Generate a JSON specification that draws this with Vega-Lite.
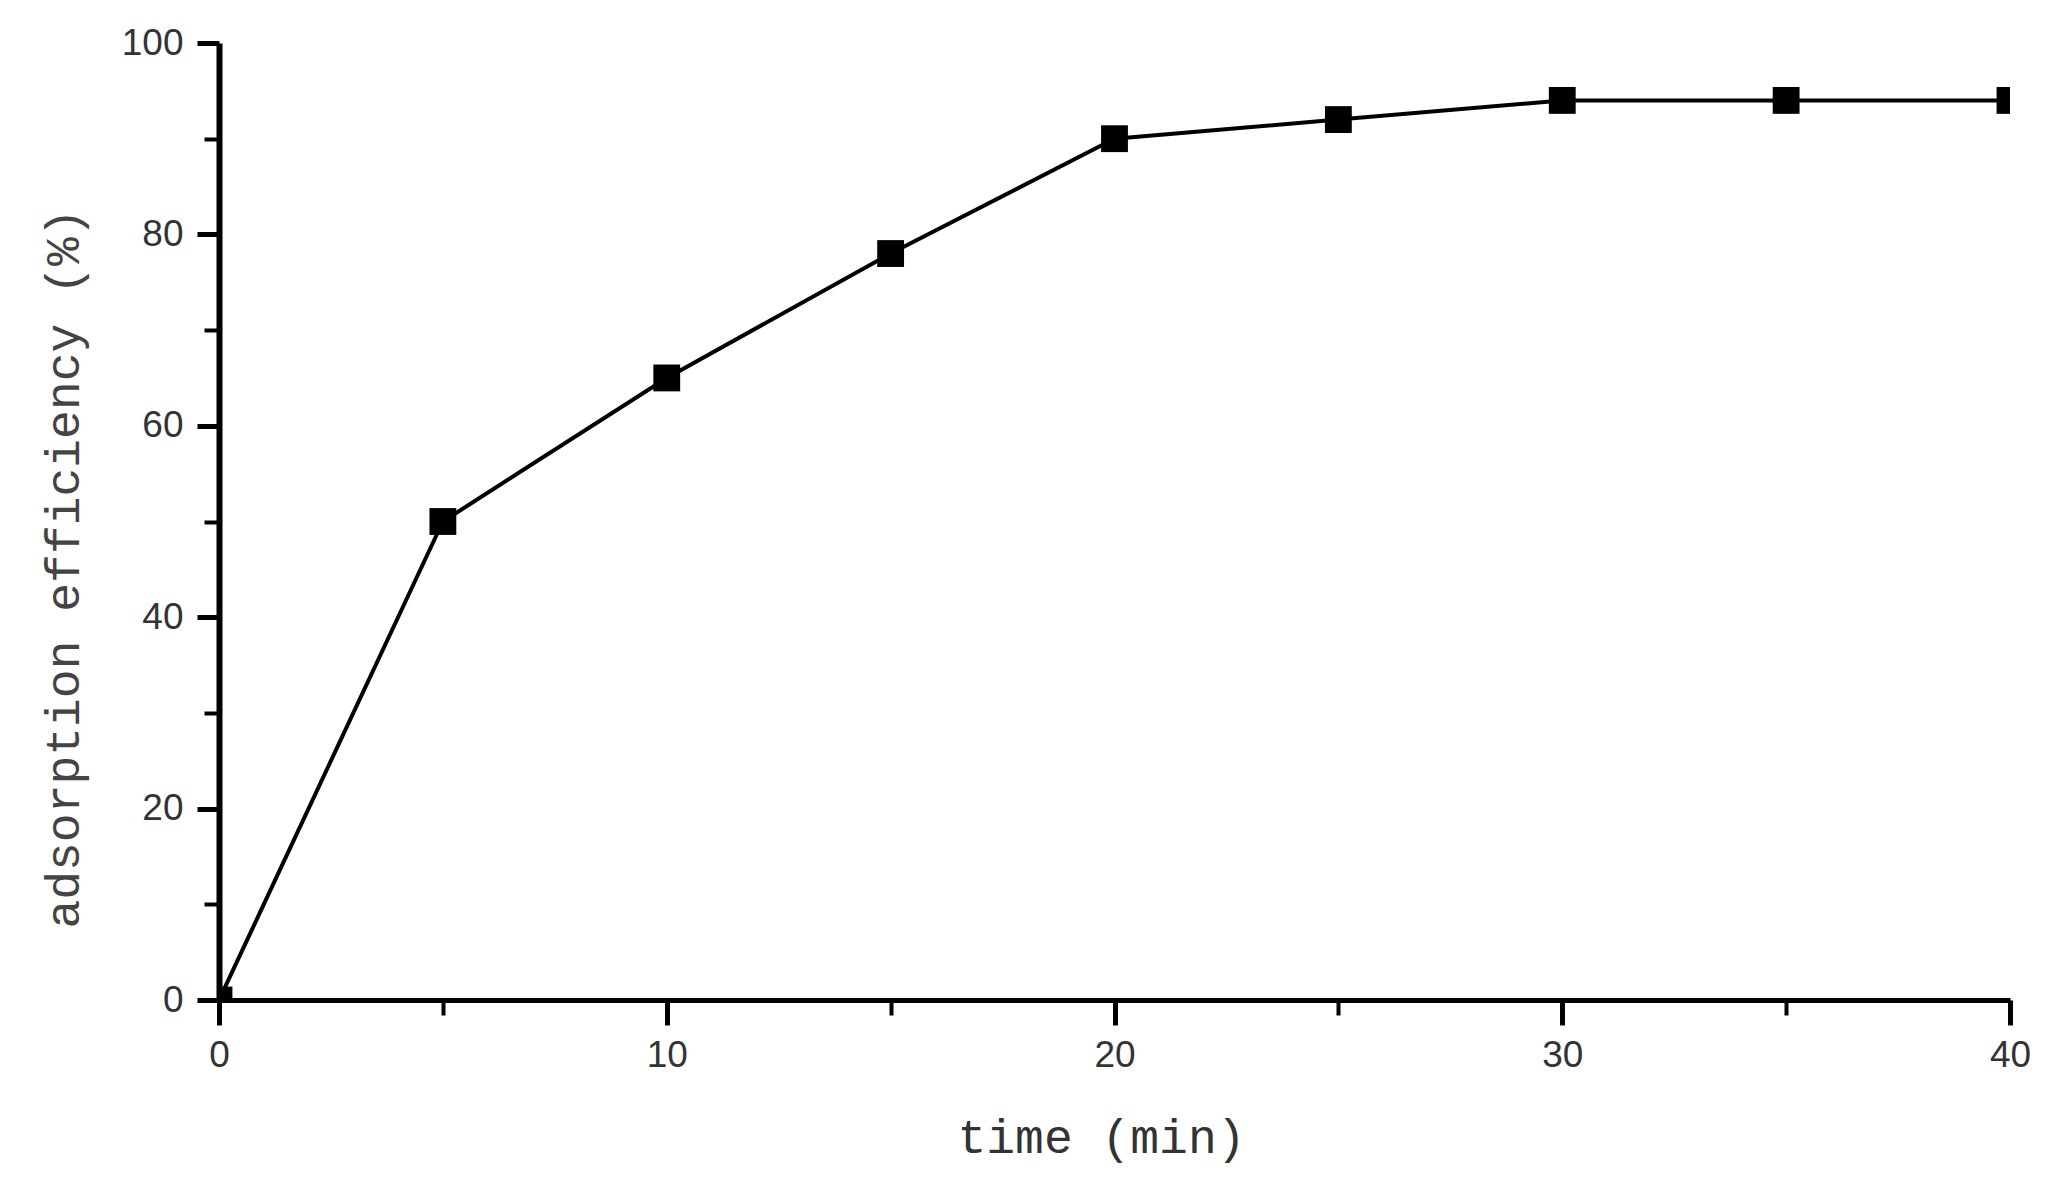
{
  "$schema": "https://vega.github.io/schema/vega-lite/v6.json",
  "autosize": "none",
  "width": 1791,
  "height": 957,
  "padding": {"left": 219, "top": 43, "right": 50, "bottom": 188},
  "background": "white",
  "config": {"view": {"stroke": null}},
  "data": {"values": [
    {"time": 0, "eff": 0},
    {"time": 5, "eff": 50},
    {"time": 10, "eff": 65},
    {"time": 15, "eff": 78},
    {"time": 20, "eff": 90},
    {"time": 25, "eff": 92},
    {"time": 30, "eff": 94},
    {"time": 35, "eff": 94},
    {"time": 40, "eff": 94}
  ]},
  "layer": [
    {
      "mark": {"type": "line", "color": "black", "strokeWidth": 4, "clip": true},
      "encoding": {
        "x": {"field": "time", "type": "quantitative",
          "scale": {"domain": [0, 40], "nice": false, "zero": false},
          "axis": {"orient": "bottom", "values": [0, 10, 20, 30, 40], "grid": false,
            "domainColor": "black", "domainWidth": 5, "tickColor": "black", "tickWidth": 5, "tickSize": 25,
            "labelFont": "Liberation Sans", "labelFontSize": 37, "labelColor": "#333", "labelPadding": 12,
            "labelFlush": false,
            "title": "time (min)", "titleFont": "Liberation Mono", "titleFontSize": 48, "titleFontWeight": "normal",
            "titleColor": "#333", "titleX": 882, "titleY": 152, "titleBaseline": "alphabetic", "titleAlign": "center"}},
        "y": {"field": "eff", "type": "quantitative",
          "scale": {"domain": [0, 100], "nice": false, "zero": false},
          "axis": {"orient": "left", "values": [0, 20, 40, 60, 80, 100], "grid": false,
            "domainColor": "black", "domainWidth": 6, "tickColor": "black", "tickWidth": 5, "tickSize": 22,
            "labelFont": "Liberation Sans", "labelFontSize": 37, "labelColor": "#333", "labelPadding": 14,
            "labelFlush": false,
            "title": "adsorption efficiency (%)", "titleFont": "Liberation Mono", "titleFontSize": 48, "titleFontWeight": "normal",
            "titleColor": "#444", "titleAngle": -90, "titleX": -141, "titleY": 525, "titleBaseline": "alphabetic", "titleAlign": "center"}}
      }
    },
    {
      "mark": {"type": "point", "shape": "square", "filled": true, "color": "black", "size": 720, "opacity": 1, "clip": true},
      "encoding": {
        "x": {"field": "time", "type": "quantitative",
          "axis": {"orient": "bottom", "values": [5, 15, 25, 35], "grid": false, "labels": false, "domain": false,
            "tickColor": "black", "tickWidth": 4, "tickSize": 15, "title": null}},
        "y": {"field": "eff", "type": "quantitative",
          "axis": {"orient": "left", "values": [10, 30, 50, 70, 90], "grid": false, "labels": false, "domain": false,
            "tickColor": "black", "tickWidth": 4, "tickSize": 15, "title": null}}
      }
    }
  ],
  "resolve": {"axis": {"x": "independent", "y": "independent"}}
}
